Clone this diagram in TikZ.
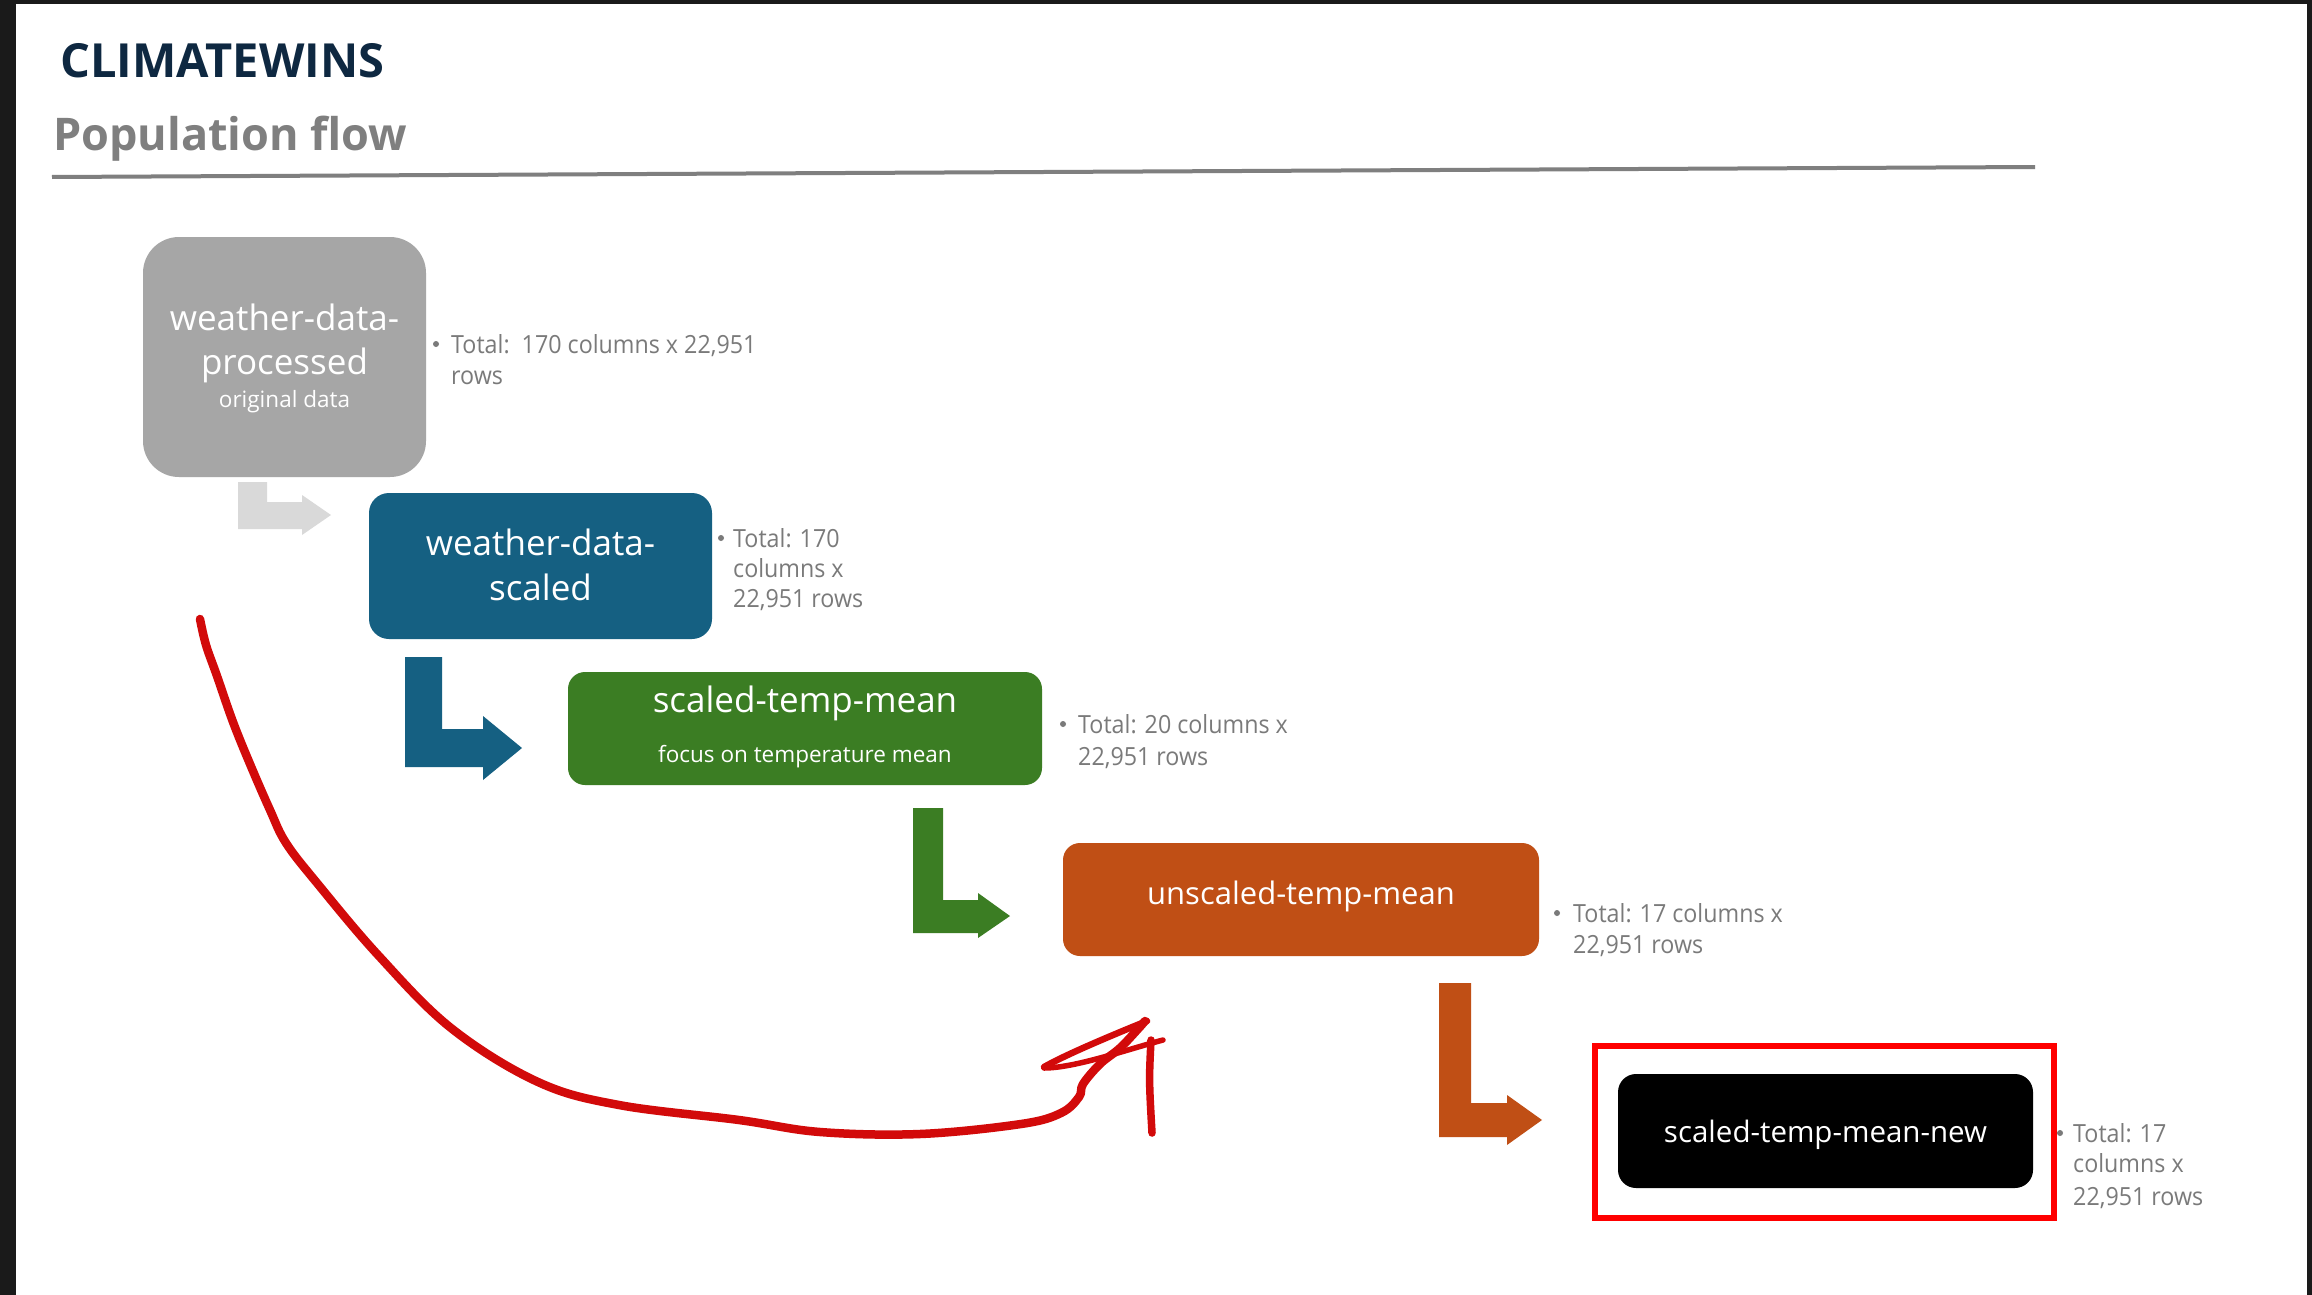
\documentclass[tikz,border=0pt]{standalone}
\usepackage{fontspec}
\setmainfont{Open Sans}
\newfontfamily\sidefont[FakeStretch=0.93]{Open Sans}
\usetikzlibrary{calc}
\definecolor{framedark}{HTML}{1A1A1A}
\definecolor{navy}{HTML}{0E2841}
\definecolor{titlegray}{HTML}{7F7F7F}
\definecolor{sidegray}{HTML}{7A7A7A}
\definecolor{boxgray}{HTML}{A6A6A6}
\definecolor{arrowgray}{HTML}{D9D9D9}
\definecolor{boxblue}{HTML}{156082}
\definecolor{boxgreen}{HTML}{3B7D23}
\definecolor{boxorange}{HTML}{C04F15}
\definecolor{pen}{HTML}{D20A0A}
\begin{document}
\begin{tikzpicture}[x=1pt,y=-1pt,
  databox/.style={inner sep=0, draw=none},
  boxtext/.style={anchor=base, inner sep=0, text=white},
  sideline/.style={anchor=base west, inner sep=0, text=sidegray, font=\sidefont\fontsize{25}{31}\selectfont},
  bulletdot/.style={fill=sidegray},
  blockarrow/.style={draw=none},
  redpen/.style={draw=pen, line cap=round, line join=round}]
\useasboundingbox (0,0) rectangle (2312,1295);
\fill[framedark] (0,0) rectangle (2312,1295);
\fill[white] (16,4) rectangle (2307,1295);

% titles
\node[anchor=base west, inner sep=0, text=navy, font=\bfseries\fontsize{47}{50}\selectfont] (title) at (60,78) {CLIMATEWINS};
\node[anchor=base west, inner sep=0, text=titlegray, font=\bfseries\fontsize{45}{50}\selectfont] (subtitle) at (53,150) {Population flow};
\draw[titlegray, line width=4] (52,177) -- (2035,167);

% boxes
\node[databox, fill=boxgray, minimum width=283, minimum height=240, rounded corners=36] (b1) at (284.5,357) {};
\node[databox, fill=boxblue, minimum width=343, minimum height=146, rounded corners=20] (b2) at (540.5,566) {};
\node[databox, fill=boxgreen, minimum width=474, minimum height=113, rounded corners=17] (b3) at (805,728.5) {};
\node[databox, fill=boxorange, minimum width=476, minimum height=113, rounded corners=17] (b4) at (1301,899.5) {};
\node[databox, fill=black, minimum width=415, minimum height=114, rounded corners=18] (b5) at (1825.5,1131) {};
\node[draw={rgb,255:red,255;green,0;blue,0}, line width=5.5, inner sep=0, minimum width=459, minimum height=172] (hl) at (1824.5,1132) {};

% box texts
\node[boxtext, font=\fontsize{35}{40}\selectfont] (t1a) at (284.5,330) {weather-data-};
\node[boxtext, font=\fontsize{35}{40}\selectfont] (t1b) at (284.5,374) {processed};
\node[boxtext, font=\fontsize{22.5}{26}\selectfont] (t1c) at (284.5,407) {original data};
\node[boxtext, font=\fontsize{35}{40}\selectfont] (t2a) at (540.5,555) {weather-data-};
\node[boxtext, font=\fontsize{35}{40}\selectfont] (t2b) at (540.5,600) {scaled};
\node[boxtext, font=\fontsize{35}{40}\selectfont] (t3a) at (805,712) {scaled-temp-mean};
\node[boxtext, font=\fontsize{22.5}{26}\selectfont] (t3b) at (805,762) {focus on temperature mean};
\node[boxtext, font=\fontsize{31}{36}\selectfont] (t4) at (1301,904) {unscaled-temp-mean};
\node[boxtext, font=\fontsize{29.5}{34}\selectfont] (t5) at (1825.5,1142) {scaled-temp-mean-new};

% side notes
\fill[bulletdot] (436,344) circle (3);
\node[sideline] (s1a) at (451,353) {Total:\ \ 170 columns x 22,951};
\node[sideline] (s1b) at (451,384) {rows};
\fill[bulletdot] (721,538) circle (3);
\node[sideline] (s2a) at (733,547) {Total: 170};
\node[sideline] (s2b) at (733,577) {columns x};
\node[sideline] (s2c) at (733,607) {22,951 rows};
\fill[bulletdot] (1063,724) circle (3);
\node[sideline] (s3a) at (1078,733) {Total: 20 columns x};
\node[sideline] (s3b) at (1078,765) {22,951 rows};
\fill[bulletdot] (1557,913) circle (3);
\node[sideline] (s4a) at (1573,922) {Total: 17 columns x};
\node[sideline] (s4b) at (1573,953) {22,951 rows};
\fill[bulletdot] (2060,1133) circle (3);
\node[sideline] (s5a) at (2073,1142) {Total: 17};
\node[sideline] (s5b) at (2073,1172) {columns x};
\node[sideline] (s5c) at (2073,1205) {22,951 rows};

% bent block arrows
\fill[arrowgray] (238,482) -- (267,482) -- (267,502) -- (302,502) -- (302,495) -- (331,515) -- (302,535) -- (302,529) -- (238,529) -- cycle;
\fill[boxblue] (405,657) -- (442,657) -- (442,729) -- (483,729) -- (483,716) -- (522,748) -- (483,780) -- (483,767) -- (405,767) -- cycle;
\fill[boxgreen] (913,808) -- (943,808) -- (943,900) -- (978,900) -- (978,893) -- (1010,916) -- (978,938) -- (978,933) -- (913,933) -- cycle;
\fill[boxorange] (1439,983) -- (1471,983) -- (1471,1103) -- (1507,1103) -- (1507,1095) -- (1542,1120) -- (1507,1145) -- (1507,1137) -- (1439,1137) -- cycle;

% hand-drawn red arrow
\draw[redpen, line width=8.5] plot[smooth, tension=0.6] coordinates {(200,619) (206,645) (217,676) (233,722) (250,764) (270,810) (286,843) (317,883) (378,955) (451,1028) (538,1082) (619,1105) (739,1120) (820,1132) (920,1134) (1021,1124) (1061,1113) (1079,1097) (1083,1084) (1100,1064) (1120,1048) (1138,1029) (1145,1021)};
\draw[redpen, line width=6.5] (1147,1021) .. controls (1110,1036) and (1065,1055) .. (1044,1067);
\draw[redpen, line width=5.5] (1044,1068) .. controls (1075,1068) and (1125,1050) .. (1163,1040);
\draw[redpen, line width=7.5] (1151,1040) .. controls (1149,1080) .. (1152,1133);
\end{tikzpicture}
\end{document}
